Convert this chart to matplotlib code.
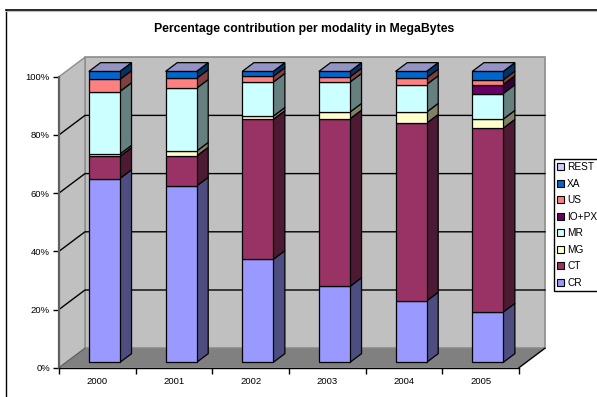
import matplotlib
matplotlib.use('Agg')
import matplotlib.pyplot as plt
from matplotlib.patches import Patch

plt.rcParams['font.family'] = ['Liberation Sans', 'DejaVu Sans']

years = ['2000', '2001', '2002', '2003', '2004', '2005']
modalities = ['CR', 'CT', 'MG', 'MR', 'IO+PX', 'US', 'XA', 'REST']

cr = [63.2, 60.6, 35.4, 26.1, 21.1, 17.3]
ct = [7.6, 10.3, 48.1, 57.6, 61.1, 63.2]
mg = [0.8, 1.7, 1.1, 2.3, 3.8, 3.1]
mr = [21.5, 21.6, 11.7, 10.3, 9.5, 8.8]
io_px = [0, 0, 0, 0, 0, 3.1]
us = [4.15, 3.4, 2.0, 1.8, 2.3, 1.6]
xa = [2.75, 2.4, 1.7, 1.9, 2.2, 2.9]
rest = [0, 0, 0, 0, 0, 0]
series = [cr, ct, mg, mr, io_px, us, xa, rest]

y_ticks = [0, 20, 40, 60, 80, 100]
y_labels = ['0%', '20%', '40%', '60%', '80%', '100%']

front_colors = ['#9999FF', '#993366', '#FFFFCC', '#CCFFFF', '#660066', '#FF8080', '#0066CC', '#CCCCFF']
side_colors = ['#4D4D80', '#4D1A33', '#808066', '#668080', '#330033', '#804040', '#003366', '#666680']
top_color = '#9494C4'

W, H = 597, 397
fig = plt.figure(figsize=(W / 100, H / 100), dpi=100, facecolor='white')

# axes is the front plane of the fake 3D box
x0, x1, y_bottom, y_top = 59, 519, 367.7, 76.7
ax = fig.add_axes([x0 / W, 1 - y_bottom / H, (x1 - x0) / W, (y_bottom - y_top) / H])
ax.set_xlim(0, len(years))
ax.set_ylim(0, 100)
ax.patch.set_visible(False)

# box depth in data units
DX = 26 / ((x1 - x0) / len(years))
DY = 19.5 / ((y_bottom - y_top) / 100)
BAR_W = 0.404
D_FRONT = 0.27
D_BACK = 0.72


def project(x, y, d):
    return x + d * DX, y + d * DY


def face(points, **kw):
    xs = [p[0] for p in points]
    ys = [p[1] for p in points]
    ax.fill(xs, ys, clip_on=False, **kw)


n = len(years)
# walls and floor
face([project(0, 0, 1), project(n, 0, 1), project(n, 100, 1), project(0, 100, 1)],
     facecolor='#C0C0C0', edgecolor='#8C8C8C', linewidth=1.2, zorder=1)
face([project(0, 0, 0), project(0, 0, 1), project(0, 100, 1), project(0, 100, 0)],
     facecolor='#C0C0C0', edgecolor='#8C8C8C', linewidth=1.0, zorder=1)
face([project(0, 0, 0), project(n, 0, 0), project(n, 0, 1), project(0, 0, 1)],
     facecolor='#808080', edgecolor='none', zorder=1.5)

# gridlines run along the left wall then the back wall
for t in y_ticks[1:-1]:
    xs = [project(0, t, 0)[0], project(0, t, 1)[0], project(n, t, 1)[0]]
    ys = [project(0, t, 0)[1], project(0, t, 1)[1], project(n, t, 1)[1]]
    ax.plot(xs, ys, color='black', lw=1.0, clip_on=False, zorder=2)
ax.plot([n, n + DX], [0, DY], color='black', lw=1.0, clip_on=False, zorder=2)
ax.plot([0, DX], [0, DY], color='#606060', lw=0.8, clip_on=False, zorder=2)

# stacked bars: sides first, then fronts, top face last
for i in range(n):
    left = i + 0.5 - BAR_W / 2
    right = left + BAR_W
    bottom = 0
    for s, vals in enumerate(series):
        v = vals[i]
        if v > 0:
            face([project(right, bottom, D_FRONT), project(right, bottom, D_BACK),
                  project(right, bottom + v, D_BACK), project(right, bottom + v, D_FRONT)],
                 facecolor=side_colors[s], edgecolor='black', linewidth=0.9, zorder=3)
            xf, yf = project(left, bottom, D_FRONT)
            ax.bar(xf, v, width=BAR_W, bottom=yf, align='edge', color=front_colors[s],
                   edgecolor='black', linewidth=0.9, clip_on=False, zorder=4)
        bottom += v
    face([project(left, bottom, D_FRONT), project(right, bottom, D_FRONT),
          project(right, bottom, D_BACK), project(left, bottom, D_BACK)],
         facecolor=top_color, edgecolor='black', linewidth=0.9, zorder=5)

# axes lines and ticks
for side in ['top', 'right']:
    ax.spines[side].set_visible(False)
ax.spines['left'].set_color('#606060')
ax.spines['left'].set_linewidth(1.6)
ax.spines['left'].set_zorder(6)
ax.spines['bottom'].set_color('black')
ax.spines['bottom'].set_linewidth(1.0)
ax.spines['bottom'].set_zorder(6)

ax.set_yticks(y_ticks)
ax.set_yticklabels(y_labels, fontsize=6.8)
ax.tick_params(axis='y', length=4, width=1.0, pad=2.5, color='black')
ax.set_xticks(range(n + 1))
ax.set_xticklabels([])
ax.set_xticks([i + 0.5 for i in range(n)], minor=True)
ax.set_xticklabels(years, minor=True, fontsize=6.8)
ax.tick_params(axis='x', which='major', length=4, width=1.0, color='black')
ax.tick_params(axis='x', which='minor', length=0, pad=6.5)

fig.text(304.5 / W, 1 - 29 / H, 'Percentage contribution per modality in MegaBytes',
         ha='center', va='center', fontsize=8.8, fontweight='bold')

# legend reads top down, so reversed; its box runs off the right edge
handles = [Patch(facecolor=front_colors[s], edgecolor='black', linewidth=0.8) for s in range(len(series))]
leg = ax.legend(handles[::-1], modalities[::-1], loc='upper left',
                bbox_to_anchor=(554 / W, 1 - 159.3 / H), bbox_transform=fig.transFigure,
                fontsize=7.3, frameon=True, fancybox=False, edgecolor='black', framealpha=1,
                borderaxespad=0, borderpad=0.3, handlelength=0.65, handleheight=0.65,
                handletextpad=0.35, labelspacing=0.64)
leg.get_frame().set_linewidth(1.0)
leg.set_zorder(10)

# chart frame: only the top and left lines land inside the image
fig.add_artist(plt.Line2D([5.5 / W, 5.5 / W], [0, 1 - 9.5 / H], color='black', lw=1.0))
fig.add_artist(plt.Line2D([5.5 / W, 1], [1 - 9.5 / H, 1 - 9.5 / H], color='black', lw=1.2))
fig.add_artist(plt.Line2D([6 / W, 1], [1 - 10.8 / H, 1 - 10.8 / H], color='#C0C0C0', lw=0.8))

fig.savefig('out.png', dpi=100)
